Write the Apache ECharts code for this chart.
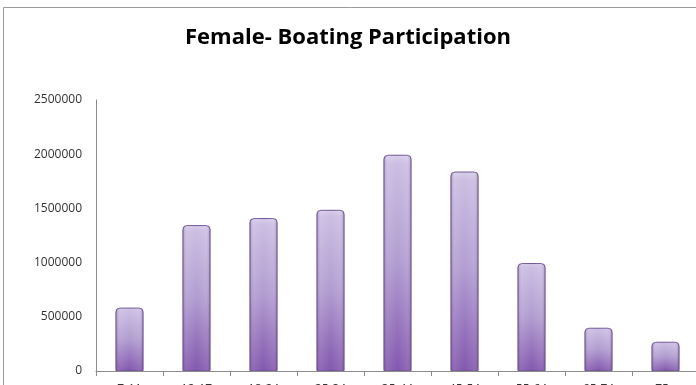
<!DOCTYPE html>
<html>
<head>
<meta charset="utf-8">
<style>
  html, body { margin: 0; padding: 0; background: #ffffff; }
  #chart { width: 696px; height: 385px; }
</style>
<script src="https://cdn.jsdelivr.net/npm/echarts@6/dist/echarts.min.js"></script>
</head>
<body>
<div id="chart"></div>
<script>
// Female boating participants by age group
const categories = ['7-11', '12-17', '18-24', '25-34', '35-44', '45-54', '55-64', '65-74', '75+'];
const participants = [585000, 1346000, 1411000, 1487000, 1995000, 1840000, 996000, 399000, 270000];
const yTicks = { min: 0, max: 2500000, interval: 500000 };

const chart = echarts.init(document.getElementById('chart'), null, { renderer: 'canvas' });

// top-to-bottom body colour of each bar
const barFill = new echarts.graphic.LinearGradient(0, 0, 0, 1, [
  { offset: 0, color: '#d9cfe9' },
  { offset: 0.04, color: '#cbbde2' },
  { offset: 0.5, color: '#b19cd0' },
  { offset: 1, color: '#8357ae' }
]);
// side shading laid over the body for a rounded look
const sideShade = new echarts.graphic.LinearGradient(0, 0, 1, 0, [
  { offset: 0, color: 'rgba(70,40,100,0.30)' },
  { offset: 0.15, color: 'rgba(255,255,255,0.10)' },
  { offset: 0.5, color: 'rgba(255,255,255,0.0)' },
  { offset: 0.85, color: 'rgba(255,255,255,0.10)' },
  { offset: 1, color: 'rgba(70,40,100,0.30)' }
]);

chart.setOption({
  animation: false,
  backgroundColor: '#ffffff',
  title: {
    text: 'Female- Boating Participation',
    left: 'center',
    top: 22,
    textStyle: {
      fontFamily: 'Open Sans',
      fontWeight: 'bold',
      fontSize: 22,
      color: '#000000'
    }
  },
  graphic: [{
    type: 'rect',
    shape: { x: 3.5, y: 7.5, width: 720, height: 400 },
    style: { fill: 'none', stroke: '#9a9a9a', lineWidth: 1 },
    silent: true,
    z: -1
  }],
  grid: { left: 96, top: 100, width: 603, height: 271, containLabel: false, outerBoundsMode: 'none' },
  xAxis: {
    type: 'category',
    data: categories,
    axisLine: { lineStyle: { color: '#8c8c8c' } },
    axisTick: { show: true, alignWithLabel: false, length: 5, lineStyle: { color: '#8c8c8c' } },
    axisLabel: { margin: 13, fontFamily: 'Open Sans', fontSize: 12, color: '#333333' },
    splitLine: { show: false }
  },
  yAxis: {
    type: 'value',
    min: yTicks.min,
    max: yTicks.max,
    interval: yTicks.interval,
    axisLine: { show: true, lineStyle: { color: '#8c8c8c' } },
    axisTick: { show: false },
    splitLine: { show: false },
    axisLabel: {
      margin: 14,
      fontFamily: 'Open Sans',
      fontSize: 12,
      color: '#333333',
      formatter: (v) => String(v)
    }
  },
  series: [{
    type: 'bar',
    data: participants,
    barWidth: 28,
    itemStyle: {
      color: barFill,
      borderColor: '#6f5296',
      borderWidth: 1,
      borderRadius: [4, 4, 0, 0]
    }
  }, {
    type: 'bar',
    data: participants,
    barWidth: 28,
    barGap: '-100%',
    silent: true,
    itemStyle: {
      color: sideShade,
      borderWidth: 0,
      borderRadius: [4, 4, 0, 0]
    }
  }]
});
</script>
</body>
</html>
